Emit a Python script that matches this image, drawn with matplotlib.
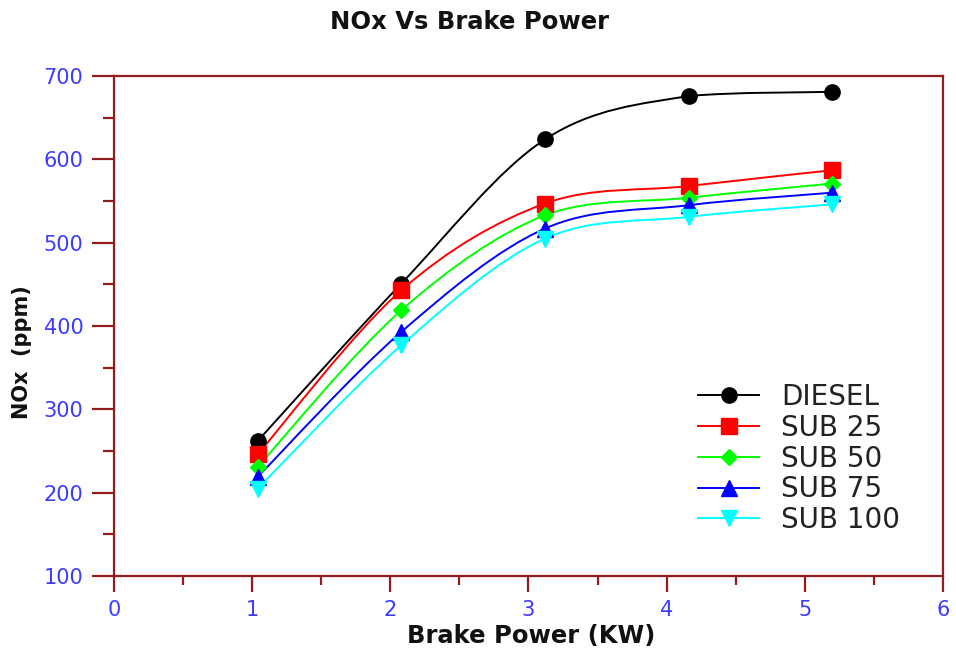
import numpy as np
import matplotlib
matplotlib.use('Agg')
import matplotlib.pyplot as plt
from matplotlib.path import Path
from matplotlib.patches import PathPatch
from matplotlib.lines import Line2D
from matplotlib.ticker import MultipleLocator

power = [1.04, 2.08, 3.12, 4.16, 5.2]
diesel = [262, 451, 624, 676, 681]
sub25 = [246, 443, 547, 568, 587]
sub50 = [231, 419, 533, 554, 571]
sub75 = [219, 393, 517, 545, 560]
sub100 = [205, 377, 505, 531, 546]

labels = ['DIESEL', 'SUB 25', 'SUB 50', 'SUB 75', 'SUB 100']
series = [diesel, sub25, sub50, sub75, sub100]
colors = ['black', '#ff0000', '#00ff00', '#0000ff', '#00ffff']
markers = ['o', 's', 'D', '^', 'v']
msizes = [11, 11, 8, 12, 12]

axis_red = '#921c1c'
tick_blue = '#3c3cff'


def smooth_path(x, y):
    # catmull-rom through the points as bezier segments, no overshoot
    pts = np.column_stack([x, y]).astype(float)
    ext = np.vstack([pts[0], pts, pts[-1]])
    verts = [pts[0]]
    codes = [Path.MOVETO]
    for i in range(1, len(ext) - 2):
        p0, p1, p2, p3 = ext[i - 1], ext[i], ext[i + 1], ext[i + 2]
        c1 = p1 + (p2 - p0) / 6
        c2 = p2 - (p3 - p1) / 6
        lo, hi = min(p1[1], p2[1]), max(p1[1], p2[1])
        c1[1] = np.clip(c1[1], lo, hi)
        c2[1] = np.clip(c2[1], lo, hi)
        verts += [c1, c2, p2]
        codes += [Path.CURVE4] * 3
    return Path(verts, codes)


fig = plt.figure(figsize=(9.56, 6.52), dpi=100)
ax = fig.add_axes([114/956, 1-576/652, (943-114)/956, 500/652])

handles = []
for vals, lab, c, m, ms in zip(series, labels, colors, markers, msizes):
    ax.add_patch(PathPatch(smooth_path(power, vals), facecolor='none',
                           edgecolor=c, lw=1.4))
    ax.plot(power, vals, ls='none', marker=m, ms=ms, color=c, mec=c)
    handles.append(Line2D([], [], color=c, lw=1.4, marker=m, ms=ms, mec=c))

ax.set_xlim(0, 6)
ax.set_ylim(100, 700)
ax.xaxis.set_major_locator(MultipleLocator(1))
ax.xaxis.set_minor_locator(MultipleLocator(0.5))
ax.yaxis.set_major_locator(MultipleLocator(100))
ax.yaxis.set_minor_locator(MultipleLocator(50))

for s in ax.spines.values():
    s.set_color(axis_red)
    s.set_linewidth(1.6)
ax.tick_params(axis='both', which='both', direction='out', color=axis_red,
               width=1.6, labelcolor=tick_blue, labelsize=15)
ax.tick_params(axis='x', which='major', length=11.5, pad=6)
ax.tick_params(axis='x', which='minor', length=6.5)
ax.tick_params(axis='y', which='major', length=16, pad=6)
ax.tick_params(axis='y', which='minor', length=8)

fig.text(470/956, 1-22/652, 'NOx Vs Brake Power', ha='center', va='center',
         fontsize=17.5, fontweight='bold', color='#111111')
fig.text(531/956, 1-636/652, 'Brake Power (KW)', ha='center', va='center',
         fontsize=17.5, fontweight='bold', color='#111111')
fig.text(22/956, 1-352/652, 'NOx  (ppm)', ha='center', va='center',
         rotation=90, fontsize=15, fontweight='bold', color='#111111')

leg = ax.legend(handles, labels, loc='upper left',
                bbox_to_anchor=(698/956, 1-383/652), bbox_transform=fig.transFigure,
                frameon=False, fontsize=20, handlelength=2.2, handletextpad=0.8,
                labelspacing=0.1, borderpad=0, borderaxespad=0)
for t in leg.get_texts():
    t.set_color('#222222')

fig.savefig('out.png', dpi=100)
